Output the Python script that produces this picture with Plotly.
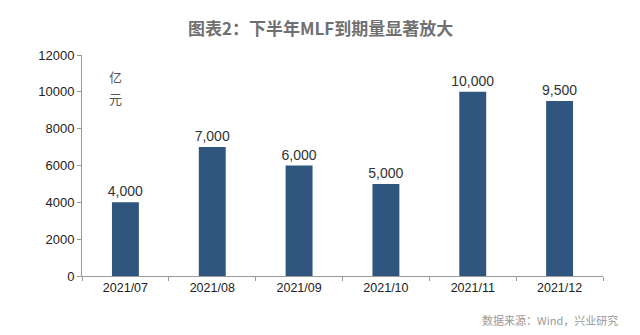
import plotly.graph_objects as go

categories = ["2021/07", "2021/08", "2021/09", "2021/10", "2021/11", "2021/12"]
values = [4000, 7000, 6000, 5000, 10000, 9500]
labels = ["4,000", "7,000", "6,000", "5,000", "10,000", "9,500"]
y_ticks = [0, 2000, 4000, 6000, 8000, 10000, 12000]
y_tick_text = [str(v) for v in y_ticks]

L, R, T, B = 82, 37, 55, 59
W, H = 640, 335
plot_w = W - L - R
plot_h = H - T - B


def px_x(x):
    return (x - L) / plot_w


def px_y(y):
    return (H - B - y) / plot_h


fig = go.Figure(go.Bar(
    x=categories, y=values, text=labels, textposition="outside",
    textfont=dict(size=14, color="#333333", family="Liberation Sans, Arial"),
    constraintext="none",
    marker=dict(color="#30557f", line=dict(width=0)),
    width=0.31, cliponaxis=False,
))

fig.update_layout(
    width=W, height=H,
    margin=dict(l=L, r=R, t=T, b=B),
    paper_bgcolor="white", plot_bgcolor="white",
    showlegend=False,
    font=dict(family="Liberation Sans, Arial", color="#222222"),
    xaxis=dict(
        type="category", showline=True, linecolor="#9a9a9a", linewidth=1,
        ticks="outside", tickson="boundaries", ticklen=4, tickcolor="#9a9a9a",
        tickfont=dict(size=12.5, color="#222222"), showgrid=False,
    ),
    yaxis=dict(
        range=[0, 12000], tickvals=y_ticks, ticktext=y_tick_text,
        showline=True, linecolor="#9a9a9a",
        linewidth=1, ticks="outside", ticklen=4, tickcolor="#9a9a9a",
        tickfont=dict(size=13, color="#222222"), showgrid=False, zeroline=False,
    ),
    annotations=[
        dict(text="<b>图表2：下半年MLF到期量显著放大</b>", x=px_x(320), xref="paper",
             y=px_y(28), yref="paper", showarrow=False, xanchor="center", yanchor="middle",
             font=dict(size=17, color="#707070", family="Noto Sans CJK SC")),
        dict(text="亿", x=px_x(115), xref="paper", y=px_y(76), yref="paper",
             showarrow=False, xanchor="center", yanchor="middle",
             font=dict(size=13, color="#555555", family="Noto Sans CJK SC")),
        dict(text="元", x=px_x(115), xref="paper", y=px_y(98), yref="paper",
             showarrow=False, xanchor="center", yanchor="middle",
             font=dict(size=13, color="#555555", family="Noto Sans CJK SC")),
        dict(text="数据来源：Wind，兴业研究", x=px_x(620), xref="paper",
             y=px_y(320), yref="paper", showarrow=False,
             xanchor="right", yanchor="middle",
             font=dict(size=11, color="#9a9a9a", family="Noto Sans CJK SC")),
    ],
)

fig.write_html("out.html")
